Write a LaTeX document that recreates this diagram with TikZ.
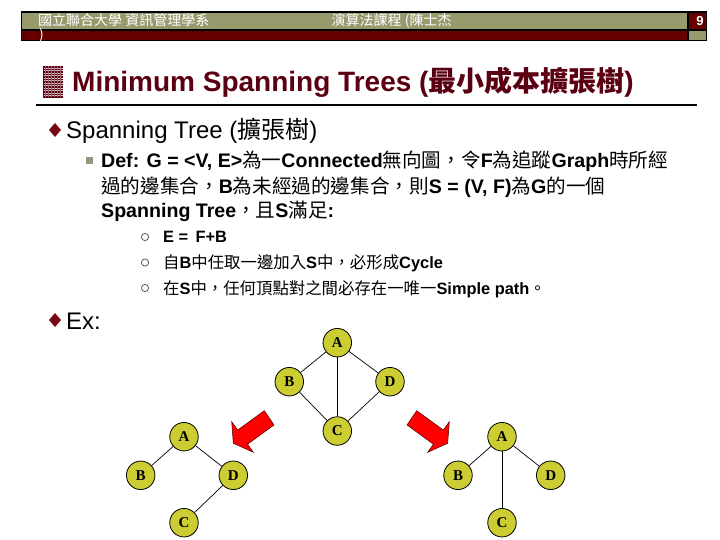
\documentclass[tikz,border=0pt]{standalone}
\usepackage{fontspec}
\setmainfont{Liberation Sans}
\newfontfamily\cjk{Noto Sans CJK TC}
\newfontfamily\nodeserif{Liberation Serif}
\newcommand\zh[1]{{\cjk\mdseries #1}}
\definecolor{olivebar}{RGB}{153,153,110}
\definecolor{hdrred}{RGB}{102,0,0}
\definecolor{titlered}{RGB}{90,0,18}
\definecolor{bulletred}{RGB}{120,8,20}
\definecolor{sqgray}{RGB}{150,150,125}
\definecolor{nodefill}{RGB}{204,204,51}
\tikzset{
  txt/.style={inner sep=0pt, anchor=base west},
  vtx/.style={circle, draw=black, line width=0.8pt, fill=nodefill, minimum size=28.5pt, inner sep=0pt, font=\nodeserif\bfseries\fontsize{15}{15}\selectfont},
  edge/.style={line width=0.7pt, black},
  bigarrow/.style={fill=red, draw=black!70!red, line width=0.5pt, line join=miter},
  hdrtxt/.style={inner sep=0pt, anchor=base west, text=white, font=\fontsize{14}{14}\selectfont}
}
\begin{document}
\begin{tikzpicture}[x=1pt,y=-1pt]
\useasboundingbox (0,0) rectangle (720,540);
\fill[white] (0,0) rectangle (720,540);
% header bar
\fill[black] (20.5,11.5) rectangle (707,41.5);
\fill[olivebar] (21.5,12.7) rectangle (687,29.5);
\fill[hdrred] (21.5,31) rectangle (687,40.3);
\fill[hdrred] (688.5,12.7) rectangle (706,29.5);
\fill[olivebar] (688.5,31) rectangle (706,40.3);
\node[hdrtxt] (h1) at (38,26) {\zh{國立聯合大學 資訊管理學系}};
\node[hdrtxt] (h2) at (331.5,26) {\zh{演算法課程 (陳士杰}};
\node[hdrtxt] (h3) at (39,40) {\zh{)}};
\node[inner sep=0pt, text=white, font=\bfseries\fontsize{13}{13}\selectfont] (pg) at (700,21) {9};
% title icon
\fill[titlered] (43,66) rectangle (63,98);
\foreach \yy in {68,70.5,...,96.5} \draw[white!75!titlered, line width=0.6pt] (43.5,\yy) -- (62.5,\yy);
\foreach \xx in {45,48,...,62} \draw[titlered!60!white, line width=0.4pt] (\xx,66.5) -- (\xx,97.5);
% title
\node[txt, text=titlered, font=\bfseries\fontsize{28}{30}\selectfont] (title) at (72,92) {Minimum Spanning Trees ({\cjk 最小成本擴張樹})};
\draw[black, line width=2pt] (36,105.5) -- (697,105.5);
% level 1
\fill[bulletred] (55,123) -- (61,130) -- (55,137) -- (49,130) -- cycle;
\node[txt, font=\fontsize{24}{26}\selectfont] (l1) at (66,139) {Spanning Tree (\zh{擴張樹})};
% level 2
\fill[sqgray] (85.5,157.5) rectangle (92.5,164.5);
\begin{scope}[every node/.style={txt, font=\bfseries\fontsize{19.6}{21}\selectfont}]
\node (d1) at (101,168) {Def: G = <V, E>\zh{為一}Connected\zh{無向圖，令}F\zh{為追蹤}Graph\zh{時所經}};
\node (d2) at (101,193.5) {\zh{過的邊集合，}B\zh{為未經過的邊集合，則}S = (V, F)\zh{為}G\zh{的一個}};
\node (d3) at (101,218) {Spanning Tree\zh{，且}S\zh{滿足}:};
\end{scope}
% level 3
\foreach \yy in {237,262.5,288} \draw[black!65, line width=0.8pt] (145,\yy) circle (3.6pt);
\begin{scope}[every node/.style={txt, font=\bfseries\fontsize{16.4}{18}\selectfont}]
\node (e1) at (163,243) {E = \,F+B};
\node (e2) at (163,268.5) {\zh{自}B\zh{中任取一邊加入}S\zh{中，必形成}Cycle};
\node (e3) at (163,294) {\zh{在}S\zh{中，任何頂點對之間必存在一唯一}Simple path\zh{。}};
\end{scope}
% Ex
\fill[bulletred] (55,313) -- (61,320) -- (55,327) -- (49,320) -- cycle;
\node[txt, font=\fontsize{24}{26}\selectfont] (ex) at (66,329) {Ex:};
% graph
\node[vtx] (A) at (337.3,342.7) {A};
\node[vtx] (B) at (289.3,381.7) {B};
\node[vtx] (D) at (390,381.7) {D};
\node[vtx] (C) at (337.3,431) {C};
\draw[edge] (A) -- (B); \draw[edge] (A) -- (C); \draw[edge] (A) -- (D);
\draw[edge] (B) -- (C); \draw[edge] (D) -- (C);
% left tree
\node[vtx] (LA) at (184,436.7) {A};
\node[vtx] (LB) at (140.7,475.3) {B};
\node[vtx] (LD) at (233.3,475.3) {D};
\node[vtx] (LC) at (184,522.7) {C};
\draw[edge] (LA) -- (LB); \draw[edge] (LA) -- (LD); \draw[edge] (LD) -- (LC);
% right tree
\node[vtx] (RA) at (502,436.7) {A};
\node[vtx] (RB) at (458,475.3) {B};
\node[vtx] (RD) at (550.7,475.3) {D};
\node[vtx] (RC) at (502,522.7) {C};
\draw[edge] (RA) -- (RB); \draw[edge] (RA) -- (RC); \draw[edge] (RA) -- (RD);
% arrows
\draw[bigarrow] (264.3,410.7) -- (274,425) -- (247.6,444.2) -- (253.3,452.3) -- (233.3,443.3) -- (231.7,421.7) -- (237.7,430) -- cycle;
\draw[bigarrow] (416.7,410.7) -- (407,425) -- (433.4,444.2) -- (427.7,452.3) -- (447.7,443.3) -- (449.3,421.7) -- (443.3,430) -- cycle;
\end{tikzpicture}
\end{document}
